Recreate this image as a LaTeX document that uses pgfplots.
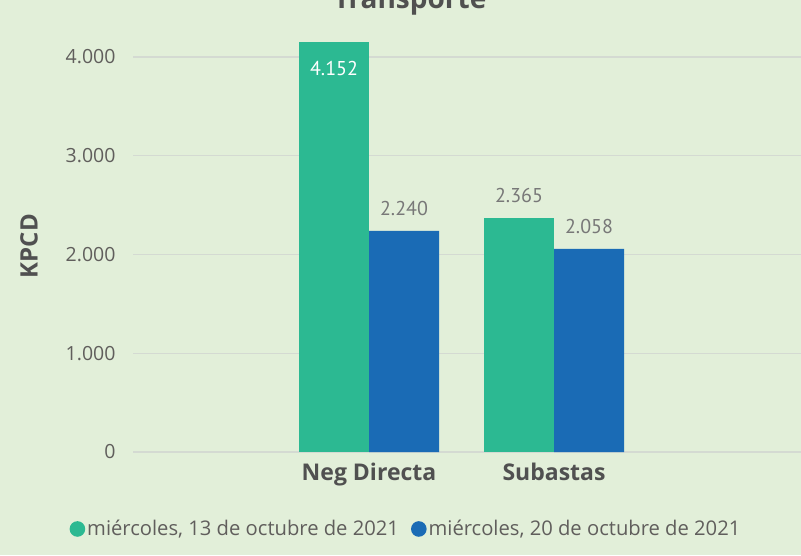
\documentclass[border=0pt]{standalone}
\usepackage{pgfplots}
\pgfplotsset{compat=1.18}
\usepackage{fontspec}
\setmainfont{Open Sans}
\newfontfamily\dinfont{PT Sans}
\definecolor{bg}{RGB}{226,239,217}
\definecolor{cgreen}{RGB}{44,185,146}
\definecolor{cblue}{RGB}{26,107,181}
\definecolor{tgray}{RGB}{96,94,92}
\definecolor{dgray}{RGB}{80,80,80}
\definecolor{lgray}{RGB}{120,120,120}
\definecolor{gridc}{RGB}{212,218,210}
\begin{document}
\begin{tikzpicture}[x=1pt,y=1pt]
\fill[bg] (0,0) rectangle (801,555);
\useasboundingbox (0,0) rectangle (801,555);
\node[anchor=base, font=\fontsize{28}{30}\selectfont\bfseries, text=dgray] at (410,546) {Transporte};
\node[rotate=90, font=\fontsize{24}{26}\selectfont\bfseries, text=dgray] at (29,309) {KPCD};
\begin{axis}[
  at={(133pt,103pt)}, anchor=south west,
  scale only axis, width=668pt, height=424.6pt,
  xmin=-1.2757, xmax=2.335, ymin=0, ymax=4300,
  ybar, bar width=0.3784, bar shift=0pt,
  axis line style={draw=none}, major tick length=0pt,
  ytick={0,1000,2000,3000,4000},
  ymajorgrids, grid style={gridc, line width=1.2pt},
  xtick={0,1}, xticklabels={Neg Directa, Subastas},
  xticklabel style={font=\fontsize{23}{26}\selectfont\bfseries, text=dgray, yshift=-7pt},
  yticklabel style={font=\fontsize{19.5}{22}\selectfont, text=tgray, xshift=-14pt},
  /pgf/number format/.cd, 1000 sep={.}, assume math mode=true, /pgfplots/.cd,
  clip=false,
  legend style={at={(0.4087,-0.1813)}, anchor=center, legend columns=2, draw=none, fill=none,
    font=\fontsize{20.2}{22}\selectfont, text=tgray,
    /tikz/every even column/.append style={column sep=10pt}},
  legend image code/.code={\fill[#1] (0.4cm,0pt) circle (7.8pt);},
]
\addplot[fill=cgreen, draw=none, nodes near coords,
  every node near coord/.append style={anchor=base, yshift=-33.5pt, text=white, font=\dinfont\fontsize{20}{22}\selectfont}]
  coordinates {(-0.1892,4152)};
\addlegendentry{miércoles, 13 de octubre de 2021}
\addplot[fill=cgreen, draw=none, forget plot, nodes near coords,
  every node near coord/.append style={anchor=base, yshift=15.5pt, text=lgray, font=\dinfont\fontsize{20}{22}\selectfont}]
  coordinates {(0.8108,2365)};
\addplot[fill=cblue, draw=none, nodes near coords,
  every node near coord/.append style={anchor=base, yshift=15.5pt, text=lgray, font=\dinfont\fontsize{20}{22}\selectfont}]
  coordinates {(0.1892,2240) (1.1892,2058)};
\addlegendentry{miércoles, 20 de octubre de 2021}
\end{axis}
\end{tikzpicture}
\end{document}
